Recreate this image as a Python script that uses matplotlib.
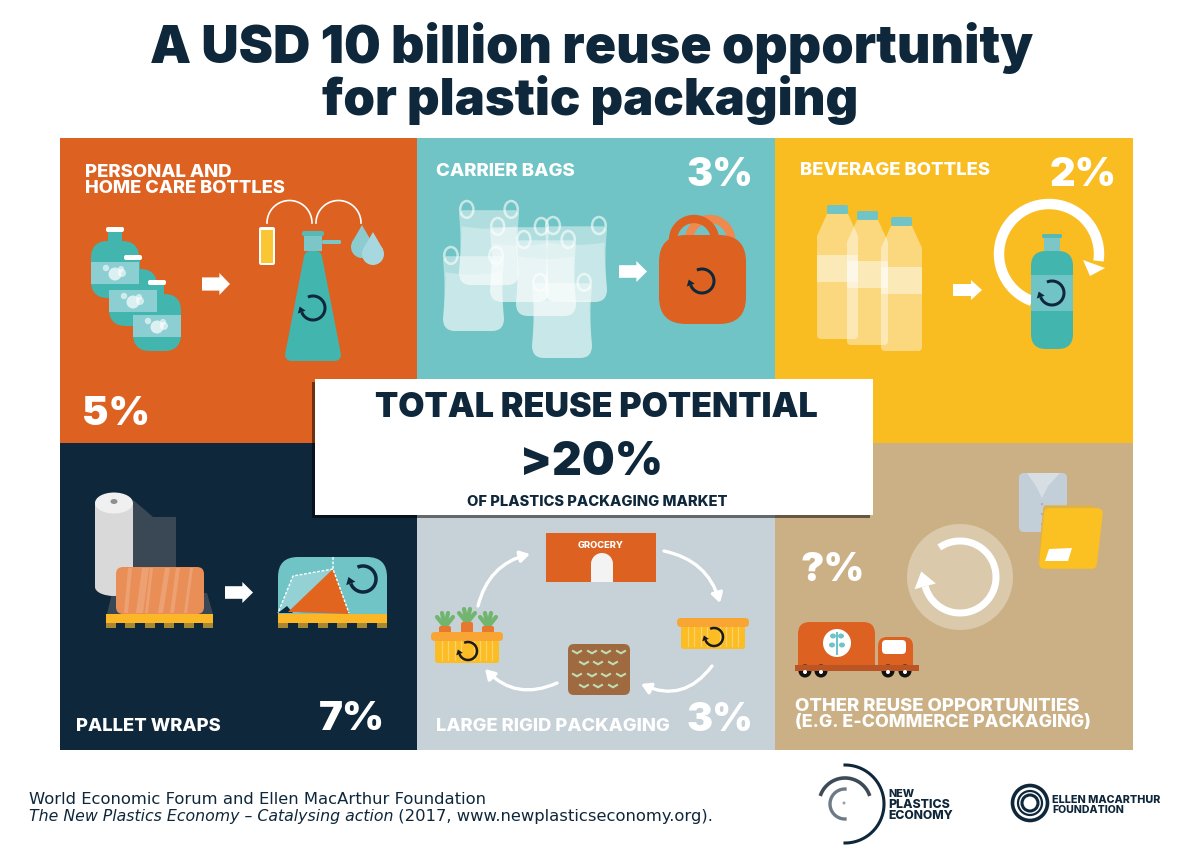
#!/usr/bin/env python3
"""A USD 10 billion reuse opportunity for plastic packaging: infographic panels."""

import matplotlib
matplotlib.use("Agg")
import matplotlib.pyplot as plt
import numpy as np
from matplotlib.patches import Circle, Ellipse, FancyArrowPatch, FancyBboxPatch, PathPatch, Polygon, Rectangle
from matplotlib.path import Path

TITLE_LINES = ["A USD 10 billion reuse opportunity", "for plastic packaging"]
CATEGORIES = [
    ["PERSONAL AND", "HOME CARE BOTTLES"],
    ["CARRIER BAGS"],
    ["BEVERAGE BOTTLES"],
    ["PALLET WRAPS"],
    ["LARGE RIGID PACKAGING"],
    ["OTHER REUSE OPPORTUNITIES", "(E.G. E-COMMERCE PACKAGING)"],
]
SHARES = ["5%", "3%", "2%", "7%", "3%", "?%"]
PANEL_COLORS = ["#DD6120", "#70C4C5", "#F9BD22", "#0E273A", "#C6D1D8", "#CBB085"]
TOTAL_HEAD = "TOTAL REUSE POTENTIAL"
TOTAL_VALUE = ">20%"
TOTAL_NOTE = "OF PLASTICS PACKAGING MARKET"
SOURCE_1 = "World Economic Forum and Ellen MacArthur Foundation"
SOURCE_2A = "The New Plastics Economy – Catalysing action"
SOURCE_2B = " (2017, www.newplasticseconomy.org)."

NAVY = "#0E273A"
ORANGE = "#DD6120"
TEAL = "#42B6AE"
TEAL_L = "#8CCFD2"
YELLOW = "#FBBC24"
FONT = "Inter"
BODY_FONT = "DejaVu Sans"

fig = plt.figure(figsize=(12, 8.57), dpi=100)
ax = fig.add_axes([0, 0, 1, 1])
ax.set_xlim(0, 1200)
ax.set_ylim(857, 0)
ax.axis("off")


def fit(x, y, s, width, color="white", ha="left", weight=800, style="normal", z=10, family=FONT):
    t = ax.text(x, y, s, color=color, ha=ha, va="baseline", family=family, weight=weight,
                style=style, fontsize=10, zorder=z)
    w = t.get_window_extent(fig.canvas.get_renderer()).width
    t.set_fontsize(10 * width / w)
    return t


def rrect(x0, y0, x1, y1, r, color, alpha=1.0, z=3, ec="none", lw=0):
    p = FancyBboxPatch((x0 + r, y0 + r), x1 - x0 - 2 * r, y1 - y0 - 2 * r,
                       boxstyle=f"round,pad={r},rounding_size={r}", fc=color, ec=ec, lw=lw,
                       alpha=alpha, zorder=z)
    ax.add_patch(p)


def rect(x0, y0, x1, y1, color, alpha=1.0, z=3):
    ax.add_patch(Rectangle((x0, y0), x1 - x0, y1 - y0, fc=color, ec="none", alpha=alpha, zorder=z))


def poly(pts, color, alpha=1.0, z=3, lw=0):
    ax.add_patch(Polygon(pts, closed=True, fc=color, ec=color if lw else "none", lw=lw,
                         alpha=alpha, zorder=z, joinstyle="round"))


def block_arrow(x0, y0, x1, y1):
    xm = x0 + (x1 - x0) * 0.62
    q = (y1 - y0) * 0.2
    poly([(x0, y0 + q), (xm, y0 + q), (xm, y0), (x1, (y0 + y1) / 2), (xm, y1), (xm, y1 - q), (x0, y1 - q)],
         "white", z=6)


def arc_pts(cx, cy, r, a0, a1):
    t = np.radians(np.linspace(a0, a1, 80))
    return cx + r * np.cos(t), cy - r * np.sin(t)


def spin(cx, cy, r, color=NAVY, lw_px=3, a0=115, a1=-160, head=None, z=8):
    xs, ys = arc_pts(cx, cy, r, a0, a1)
    ax.plot(xs, ys, color=color, lw=lw_px * 0.72, solid_capstyle="butt", zorder=z)
    head = head or lw_px * 1.4
    t = np.radians(a1)
    ex, ey = cx + r * np.cos(t), cy - r * np.sin(t)
    # clockwise on screen: tangent direction
    dx, dy = np.sin(t), np.cos(t)
    nx, ny = np.cos(t), -np.sin(t)
    poly([(ex + nx * head, ey + ny * head), (ex - nx * head, ey - ny * head),
          (ex + dx * head * 1.4, ey + dy * head * 1.4)], color, z=z)


def jar(x, y):
    # x, y: body left and top
    rect(x + 17, y - 10, x + 31, y + 6, TEAL, z=3)
    rrect(x + 15, y - 14, x + 33, y - 9, 2, "white", z=4)
    rrect(x, y, x + 48, y + 57, 17, TEAL, z=3)
    rect(x, y + 21, x + 48, y + 43, TEAL_L, z=4)
    for dx, dy, r, a in [(15, 27, 3.2, .6), (24, 33, 6.5, .7), (30, 28, 3, .6), (31, 32, 4, .6)]:
        ax.add_patch(Circle((x + dx, y + dy), r, fc="white", alpha=a, ec="none", zorder=5))


def drop(cx, cy, r, tip_y, color, z=4):
    ax.add_patch(Circle((cx, cy), r, fc=color, ec="none", zorder=z))
    poly([(cx - r * .92, cy - r * .4), (cx, tip_y), (cx + r * .92, cy - r * .4)], color, z=z)


def bag(x0, x1, top, bot, z=3):
    w, h = x1 - x0, bot - top
    for hx in (x0 + .13 * w, x1 - .13 * w):
        ax.add_patch(Ellipse((hx, top + .1 * h), .22 * w, .2 * h, fc="none", ec="white", lw=1.8,
                             alpha=.6, zorder=z))
    v = [(x0, top + .15 * h), (x0 + .05 * w, top + .11 * h), (x1 - .05 * w, top + .11 * h),
         (x1, top + .15 * h), (x1 - .05 * w, top + .5 * h), (x1, top + .85 * h), (x1, bot), (x1 - .2 * w, bot),
         (x0 + .2 * w, bot), (x0, bot), (x0, top + .85 * h), (x0 + .05 * w, top + .5 * h), (x0, top + .15 * h)]
    c = [Path.MOVETO, Path.LINETO, Path.LINETO, Path.LINETO,
         Path.CURVE3, Path.CURVE3, Path.CURVE3, Path.CURVE3, Path.LINETO, Path.CURVE3, Path.CURVE3,
         Path.CURVE3, Path.CURVE3]
    ax.add_patch(PathPatch(Path(v, c), fc="white", ec="none", alpha=.45, zorder=z))
    # darker sag between the handles stays at the lighter alpha only
    v2 = [(x0 + .04 * w, top + .3 * h), (x0 + .5 * w, top + .36 * h), (x1 - .04 * w, top + .3 * h),
          (x1 - .05 * w, top + .5 * h), (x1, top + .85 * h), (x1, bot), (x1 - .2 * w, bot),
          (x0 + .2 * w, bot), (x0, bot), (x0, top + .85 * h), (x0 + .05 * w, top + .5 * h),
          (x0 + .04 * w, top + .3 * h)]
    c2 = [Path.MOVETO, Path.CURVE3, Path.CURVE3, Path.CURVE3, Path.CURVE3, Path.CURVE3, Path.CURVE3,
          Path.LINETO, Path.CURVE3, Path.CURVE3, Path.CURVE3, Path.CURVE3]
    ax.add_patch(PathPatch(Path(v2, c2), fc="white", ec="none", alpha=.3, zorder=z))


def drink(x, y_cap, bottom):
    # light beverage bottle, width 41 px
    rrect(x + 10, y_cap, x + 31, y_cap + 9, 2, "#70C4C5", z=4)
    top = y_cap + 9
    v = [(x + 10, top), (x + 31, top), (x + 41, top + 22), (x + 41, bottom - 4),
         (x + 41, bottom), (x + 37, bottom), (x + 4, bottom), (x, bottom), (x, bottom - 4),
         (x, top + 22), (x + 10, top), (x + 10, top)]
    c = [Path.MOVETO, Path.LINETO, Path.LINETO, Path.LINETO, Path.CURVE3, Path.CURVE3,
         Path.LINETO, Path.CURVE3, Path.CURVE3, Path.LINETO, Path.LINETO, Path.CLOSEPOLY]
    ax.add_patch(PathPatch(Path(v, c), fc="white", ec="none", alpha=.42, zorder=3))
    rect(x, top + 41, x + 41, top + 68, "white", alpha=.45, z=3)


def pallet(x0, x1, y):
    step = (x1 - x0 - 10) / 5
    for i in range(6):
        rect(x0 + i * step, y + 9, x0 + i * step + 10, y + 14, "#A98834", z=4)
    rect(x0, y, x1, y + 9, "#FBB726", z=5)


def crate(x0, y0):
    rrect(x0 + 4, y0 + 8, x0 + 68, y0 + 31, 3, YELLOW, z=4)
    for i in range(9):
        if i != 4:
            ax.plot([x0 + 11 + i * 6.3] * 2, [y0 + 9, y0 + 28], color="#FCD26A", lw=.9, zorder=5)
    rrect(x0, y0, x0 + 72, y0 + 9, 4, "#F9A533", z=5)


# panels
PANEL_X = [60, 417, 775, 1133]
PANEL_Y = [138, 443, 750]
for i, col in enumerate(PANEL_COLORS):
    r, c = divmod(i, 3)
    rect(PANEL_X[c], PANEL_Y[r], PANEL_X[c + 1], PANEL_Y[r + 1], col, z=1)

# title
fit(150, 63, TITLE_LINES[0], 885, color=NAVY, weight=900)
fit(322, 115, TITLE_LINES[1], 540, color=NAVY, weight=900)

# category labels and shares
fit(85, 177, CATEGORIES[0][0], 147)
fit(85, 193, CATEGORIES[0][1], 200)
fit(436, 176, CATEGORIES[1][0], 139)
fit(800, 175, CATEGORIES[2][0], 190)
fit(76, 731, CATEGORIES[3][0], 145)
fit(436, 731, CATEGORIES[4][0], 234)
fit(795, 711, CATEGORIES[5][0], 285)
fit(795, 727, CATEGORIES[5][1], 295)
fit(82, 425, SHARES[0], 68, weight=900)
fit(686, 186, SHARES[1], 67, weight=900)
fit(1050, 186, SHARES[2], 67, weight=900)
fit(319, 730, SHARES[3], 66, weight=900)
fit(687, 731, SHARES[4], 67, weight=900)
fit(801, 581, SHARES[5], 64, weight=900)

# personal and home care
jar(91, 241)
jar(109, 269)
jar(133, 294)
block_arrow(202, 273, 230, 295)
rrect(259, 227, 275, 265, 2, "white", z=4)
rect(261, 230, 273, 263, "#FBC634", z=5)
for a, b in [(267, 312), (316, 361)]:
    xs, ys = arc_pts((a + b) / 2, 223, (b - a) / 2, 180, 0)
    ax.plot(xs, ys, color="white", lw=1.2, zorder=4)
poly([(310, 257), (316, 257), (335, 355), (291, 355)], TEAL, z=3, lw=8.6)
rect(304, 235, 322, 251, "#7CC6C8", z=3.5)
rrect(302, 231, 324, 236, 2, "#57B9B5", z=4)
rrect(322, 240, 341, 244, 1.5, "#7CC6C8", z=3)
drop(362, 247, 11, 225, "#8CCBD0")
drop(373, 254, 11, 232, "#A8D8DF", z=5)
spin(313, 308, 12)

# carrier bags
for b in [(459, 519, 201, 285), (443, 504, 247, 331), (490, 549, 218, 302),
          (545, 607, 217, 302), (516, 576, 231, 316), (532, 592, 274, 358)]:
    bag(*b)
block_arrow(619, 261, 647, 282)
for cx, col in [(710, "#EE8A50"), (694, ORANGE)]:
    xs, ys = arc_pts(cx, 240, 21, 0, 180)
    ax.plot(xs, ys, color=col, lw=6, solid_capstyle="butt", zorder=3)
rrect(659, 235, 746, 324, 27, ORANGE, z=4)
spin(702, 281, 12)

# beverage bottles
drink(817, 205, 339)
drink(847, 211, 345)
drink(881, 217, 351)
block_arrow(953, 280, 982, 300)
xs, ys = arc_pts(1049, 254, 50, 250, -8)
ax.plot(xs, ys, color="white", lw=7.5, solid_capstyle="butt", zorder=4)
poly([(1083, 260), (1105, 268), (1090, 276)], "white", z=4)
rect(1044, 238, 1060, 254, "#7CC6C8", z=5)
rrect(1042, 234, 1062, 238, 1.5, "#57B9B5", z=6)
rrect(1031, 251, 1073, 349, 15, TEAL, z=5)
rect(1031, 275, 1073, 311, "#70C4C5", z=6)
spin(1052, 293, 12)

# pallet wraps
poly([(133, 500), (145, 510), (153, 517), (176, 517), (176, 570), (133, 570)], "#3A4856", z=2)
poly([(112, 593), (107, 614), (213, 614), (207, 593)], "#3A4856", z=2)
rect(95, 503, 133, 586, "#D9D9D9", z=3)
ax.add_patch(Ellipse((114, 587), 38, 18, fc="#D9D9D9", ec="none", zorder=3))
ax.add_patch(Ellipse((114, 503), 38, 21, fc="#F0F0F0", ec="none", zorder=3))
ax.add_patch(Ellipse((114, 501.5), 7, 5, fc="#8F8F8F", ec="none", zorder=4))
rrect(116, 567, 204, 614, 7, "#E98E56", z=5)
for xa, xb, w in [(128, 124, 4), (142, 136, 7), (150, 145, 3), (165, 158, 5), (176, 170, 4), (190, 184, 3)]:
    poly([(xa, 568), (xa + w, 568), (xb + w, 613), (xb, 613)], "#F1B48F", alpha=.5, z=6)
pallet(106, 213, 614)
block_arrow(225, 582, 253, 603)
rrect(278, 557, 387, 640, 20, "#70C4C5", z=2)
rect(270, 614, 395, 645, NAVY, z=2.5)
poly([(278, 613), (293, 576), (333, 569), (300, 613)], "#93D1D5", z=3)
poly([(278, 613), (287, 606), (293, 613)], NAVY, z=3)
poly([(288, 612), (333, 569), (349, 614)], "#E2651F", z=4)
ax.plot([333, 333, 349], [557, 569, 613], color="white", lw=1, ls=(0, (2, 1.2)), zorder=5)
ax.plot([333, 293, 278], [569, 576, 613], color="white", lw=1, ls=(0, (2, 1.2)), zorder=5)
pallet(278, 387, 614)
spin(363, 579, 13, lw_px=3.5)

# large rigid packaging
rect(546, 533, 656, 582, ORANGE)
fit(601, 548, "GROCERY", 46, ha="center")
rect(591, 564, 613, 582, "#F3F3F3", z=4)
ax.add_patch(Ellipse((602, 564), 22, 22, fc="#F3F3F3", ec="none", zorder=4))
for a, b, rad in [((664, 551), (720, 603), -.3), ((712, 666), (641, 684), -.4),
                  ((557, 683), (485, 669), -.35), ((478, 606), (530, 554), -.3)]:
    ax.add_patch(FancyArrowPatch(a, b, connectionstyle=f"arc3,rad={rad}", arrowstyle="-|>,head_length=4,head_width=2.4",
                                 color="white", lw=2.4, mutation_scale=1.4, zorder=4, shrinkA=0, shrinkB=0))
crate(677, 618)
spin(714, 637, 9, color="#1A1A1A", lw_px=2.5)
crate(431, 632)
spin(468, 651, 9, color="#1A1A1A", lw_px=2.5)
for cx, top, in [(445, 626), (467, 622), (488, 626)]:
    rrect(cx - 6, top, cx + 6, 633, 2, "#E9782F", z=3)
    for dx, dy in [(-8, -10), (-3, -14), (3, -14), (8, -10)]:
        ax.plot([cx, cx + dx], [top + 1, top + 1 + dy], color="#71B56F", lw=3, solid_capstyle="round", zorder=2.5)
rrect(568, 644, 630, 695, 6, "#A06A40")
for row_y, row_x in [(652, [577, 592, 606, 621]), (663, [584, 598, 613]),
                     (675, [577, 592, 606, 621]), (686, [584, 598, 613])]:
    for sx in row_x:
        ax.plot([sx - 4, sx - .5], [row_y - 1, row_y + 1], color="#BFDDB5", lw=1.5, zorder=4)
        ax.plot([sx + .5, sx + 4], [row_y + 1, row_y - 1], color="#BFDDB5", lw=1.5, zorder=4)

# other reuse
ax.add_patch(Circle((960, 577), 53, fc="#DAC9AB", ec="none", zorder=3))
spin(960, 577, 36, color="white", lw_px=7, a0=125, a1=-165, head=11)
rrect(1019, 473, 1067, 532, 5, "#C3CFD8", z=3)
poly([(1027, 473), (1042, 473), (1042, 498), (1036, 486)], "#D7DFE5", z=4)
poly([(1050, 473), (1060, 473), (1048, 486), (1042, 498), (1042, 473)], "#D7DFE5", z=4)
for by in [504, 514, 524]:
    ax.add_patch(Circle((1042, by), 1.2, fc="#B9A5BE", ec="none", zorder=4))
poly([(1046, 508), (1092, 508), (1088, 560), (1041, 560)], "#DDB347", z=4, lw=4)
poly([(1049, 513), (1098, 513), (1092, 564), (1044, 564)], "#FBC022", z=5, lw=7)
poly([(1049, 549), (1072, 548), (1068, 561), (1045, 561)], "white", z=6)
rrect(798, 622, 875, 660, 12, ORANGE)
rect(798, 640, 875, 668, ORANGE)
rrect(878, 637, 913, 660, 9, ORANGE)
rect(878, 648, 913, 668, ORANGE)
rrect(882, 640, 906, 654, 4, "white", z=4)
rect(795, 665, 919, 671, "#BC5526", z=5)
for wx in [805, 821, 888, 905]:
    ax.add_patch(Circle((wx, 671), 6.5, fc="#111111", ec="none", zorder=4))
    ax.add_patch(Circle((wx, 672), 2, fc="white", ec="none", zorder=5.5))
ax.add_patch(Circle((837, 643), 14, fc="white", ec="none", zorder=4))
ax.plot([837, 837], [633, 654], color="#70C4C5", lw=1.5, zorder=5)
for dx, dy in [(-4, 636), (4, 636), (-5, 645), (5, 645)]:
    ax.add_patch(Ellipse((837 + dx, dy), 6, 5, fc="#70C4C5", ec="none", zorder=5))

# centre box
rect(312, 382, 870, 518, "black", alpha=.5, z=7)
rect(315, 379, 873, 515, "white", z=8)
fit(596, 417, TOTAL_HEAD, 442, color=NAVY, ha="center", z=9, weight=900)
fit(592, 475, TOTAL_VALUE, 143, color=NAVY, ha="center", z=9, weight=900)
fit(597, 506, TOTAL_NOTE, 260, color=NAVY, ha="center", z=9)

# source
fit(29, 804, SOURCE_1, 458, color=NAVY, weight="normal", family=BODY_FONT)
fit(29, 821, SOURCE_2A, 364, color=NAVY, weight="normal", style="italic", family=BODY_FONT)
fit(393, 821, SOURCE_2B, 319, color=NAVY, weight="normal", family=BODY_FONT)

# logos
xs, ys = arc_pts(845, 804, 39, 90, -90)
ax.plot(xs, ys, color=NAVY, lw=2.2, zorder=3)
xs, ys = arc_pts(845, 804, 26, 158, 22)
ax.plot(xs, ys, color="#3D4B58", lw=2.6, zorder=3)
xs, ys = arc_pts(845, 804, 15, 90, 270)
ax.plot(xs, ys, color="#6E7A85", lw=2.4, zorder=3)
ax.add_patch(Circle((844, 803), 1.5, fc="#9AA3AB", ec="none"))
fit(888, 797, "NEW", 26, color=NAVY)
fit(888, 808, "PLASTICS", 62, color=NAVY)
fit(888, 819, "ECONOMY", 65, color=NAVY)
for r, lw in [(17.5, 2.6), (12, 1.6), (8, 2.2)]:
    ax.add_patch(Circle((1030, 803), r, fc="none", ec=NAVY, lw=lw, zorder=3))
fit(1052, 803, "ELLEN MACARTHUR", 108, color=NAVY)
fit(1052, 813, "FOUNDATION", 72, color=NAVY)

fig.savefig("out.png", dpi=100)
